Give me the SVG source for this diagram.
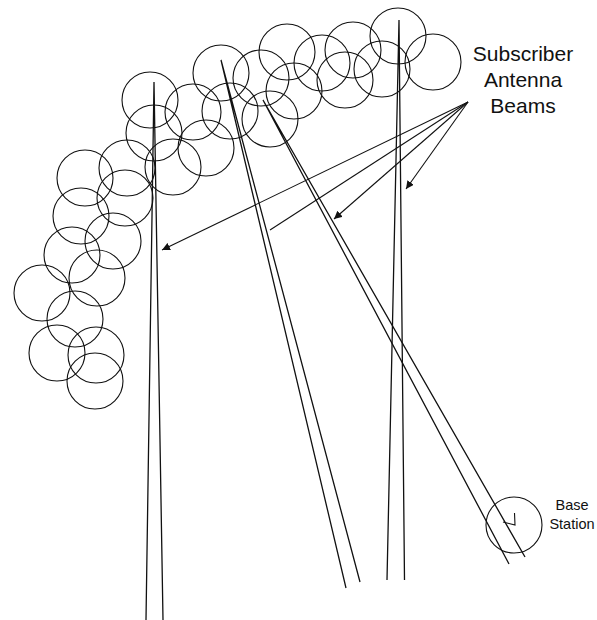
<svg xmlns="http://www.w3.org/2000/svg" width="597" height="620" viewBox="0 0 597 620">
<style>
.c{fill:none;stroke:#111;stroke-width:1.1}
.b{fill:none;stroke:#111;stroke-width:1.3}
.a{fill:none;stroke:#111;stroke-width:1.1}
.t{font-family:"Liberation Sans",Arial,sans-serif;fill:#111;text-anchor:middle}
</style>
<defs>
<marker id="ah" viewBox="0 0 10 10" refX="10" refY="5" markerWidth="8" markerHeight="8" markerUnits="userSpaceOnUse" orient="auto">
<path d="M0,0 L10,5 L0,10 z" fill="#111"/>
</marker>
</defs>
<rect width="597" height="620" fill="#fff"/>
<g id="coverage-cells">
<circle class="c" cx="150" cy="100" r="28"/>
<circle class="c" cx="154" cy="133" r="28"/>
<circle class="c" cx="193" cy="112" r="28"/>
<circle class="c" cx="221" cy="73" r="28"/>
<circle class="c" cx="230" cy="111" r="28"/>
<circle class="c" cx="261" cy="78" r="28"/>
<circle class="c" cx="287" cy="52" r="28"/>
<circle class="c" cx="294" cy="91" r="28"/>
<circle class="c" cx="270" cy="119" r="28"/>
<circle class="c" cx="206" cy="148" r="28"/>
<circle class="c" cx="173" cy="167" r="28"/>
<circle class="c" cx="85" cy="178" r="28"/>
<circle class="c" cx="127" cy="168" r="28"/>
<circle class="c" cx="125" cy="198" r="28"/>
<circle class="c" cx="81" cy="216" r="28"/>
<circle class="c" cx="113" cy="241" r="28"/>
<circle class="c" cx="72" cy="255" r="28"/>
<circle class="c" cx="97" cy="278" r="28"/>
<circle class="c" cx="42" cy="293" r="28"/>
<circle class="c" cx="75" cy="319" r="28"/>
<circle class="c" cx="57" cy="353" r="28"/>
<circle class="c" cx="96" cy="355" r="28"/>
<circle class="c" cx="95" cy="381" r="28"/>
<circle class="c" cx="322" cy="63" r="28"/>
<circle class="c" cx="353" cy="50" r="28"/>
<circle class="c" cx="345" cy="80" r="28"/>
<circle class="c" cx="398" cy="36" r="28"/>
<circle class="c" cx="382" cy="69" r="28"/>
<circle class="c" cx="433" cy="62" r="28"/>
</g>
<g id="beam-1">
<polyline class="b" points="146,620 154,82 163,620"/>
</g>
<g id="beam-2">
<polyline class="b" points="346,588 221,60 360,582"/>
</g>
<g id="beam-3">
<polyline class="b" points="509,564 263,100 525,557"/>
</g>
<g id="beam-4">
<polyline class="b" points="387,580 399,20 404.5,580"/>
</g>
<g id="base-station">
<circle class="c" cx="514" cy="525" r="28"/>
<polyline class="a" points="503,522 515,525 514.5,513"/>
<text class="t" x="572" y="510" font-size="14.5">Base</text>
<text class="t" x="572" y="529" font-size="14.5">Station</text>
</g>
<g id="label">
<text class="t" x="523" y="61" font-size="21">Subscriber</text>
<text class="t" x="523" y="87" font-size="21">Antenna</text>
<text class="t" x="523" y="113" font-size="21">Beams</text>
</g>
<g id="connectors">
<line class="a" x1="468" y1="102" x2="162" y2="250" marker-end="url(#ah)"/>
<line class="a" x1="468" y1="102" x2="270" y2="230"/>
<line class="a" x1="468" y1="102" x2="334" y2="219" marker-end="url(#ah)"/>
<line class="a" x1="468" y1="102" x2="406" y2="189" marker-end="url(#ah)"/>
</g>
</svg>
